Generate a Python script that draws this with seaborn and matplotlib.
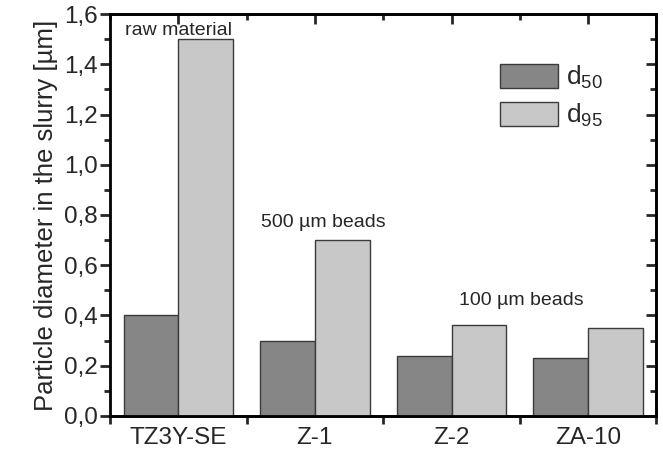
import numpy as np
import pandas as pd
import matplotlib
matplotlib.use("Agg")
import matplotlib.pyplot as plt
import seaborn as sns
from matplotlib.patches import Patch
from matplotlib.ticker import MultipleLocator, FuncFormatter

# Data
samples = ['TZ3Y-SE', 'Z-1', 'Z-2', 'ZA-10']
d50 = [0.40, 0.30, 0.24, 0.23]
d95 = [1.50, 0.70, 0.36, 0.35]
series_labels = ['d50', 'd95']
notes = ['raw material', '500 µm beads', '100 µm beads']
note_pos = [(0.0, 1.535), (1.06, 0.772), (2.51, 0.46)]

colors = ['#868686', '#c8c8c8']

sns.set_theme(style='white')
plt.rcParams['font.family'] = ['Liberation Sans', 'DejaVu Sans']
plt.rcParams['mathtext.fontset'] = 'custom'
plt.rcParams['mathtext.rm'] = 'Liberation Sans'
plt.rcParams['mathtext.it'] = 'Liberation Sans'

df = pd.DataFrame({
    'sample': samples * 2,
    'size': series_labels[0:1] * len(samples) + series_labels[1:2] * len(samples),
    'value': d50 + d95,
})

fig = plt.figure(figsize=(6.63, 4.55), dpi=100)
ax = fig.add_axes([0.166, 0.086, 0.824, 0.883])

sns.barplot(ax=ax, data=df, x='sample', y='value', hue='size',
            palette=colors, edgecolor='#3a3a3a', linewidth=1.0,
            width=0.8, legend=False, saturation=1)

ax.set_xlim(-0.5, 3.5)
ax.set_ylim(0, 1.6)
ax.yaxis.set_major_locator(MultipleLocator(0.2))
ax.yaxis.set_minor_locator(MultipleLocator(0.1))
ax.yaxis.set_major_formatter(FuncFormatter(lambda v, p: f'{v:.1f}'.replace('.', ',')))

for s in ax.spines.values():
    s.set_linewidth(2)
    s.set_color('black')

# left / bottom ticks point out, right / top point in
ax.tick_params(axis='y', which='major', direction='out', length=7, width=2,
               labelsize=17.5, left=True, right=False, pad=2)
ax.tick_params(axis='y', which='minor', direction='out', length=4, width=2,
               left=True, right=False)
ax.tick_params(axis='x', which='major', length=0, labelsize=17.5, pad=8)

ax2 = ax.secondary_yaxis('right')
ax2.yaxis.set_major_locator(MultipleLocator(0.2))
ax2.yaxis.set_minor_locator(MultipleLocator(0.1))
ax2.tick_params(which='major', direction='in', length=7, width=2, labelright=False)
ax2.tick_params(which='minor', direction='in', length=4, width=2)
ax2.spines['right'].set_linewidth(2)

ax3 = ax.secondary_xaxis('bottom')
ax3.set_xticks([-0.5, 0.5, 1.5, 2.5, 3.5])
ax3.tick_params(direction='out', length=6, width=2, labelbottom=False)
ax3.spines['bottom'].set_linewidth(2)

ax4 = ax.secondary_xaxis('top')
ax4.set_xticks([0, 1, 2, 3])
ax4.set_xticks([-0.5, 0.5, 1.5, 2.5, 3.5], minor=True)
ax4.tick_params(which='major', direction='in', length=7, width=2, labeltop=False)
ax4.tick_params(which='minor', direction='in', length=4, width=2)
ax4.spines['top'].set_linewidth(2)

ax.set_xlabel('')
ax.set_ylabel('Particle diameter in the slurry [µm]', fontsize=18.5, labelpad=4)

for txt, (x, y) in zip(notes, note_pos):
    ax.text(x, y, txt, ha='center', va='center', fontsize=14)

handles = [Patch(facecolor=c, edgecolor='#3a3a3a', linewidth=1.0) for c in colors]
ax.legend(handles, ['d$_{50}$', 'd$_{95}$'], loc='upper right',
          bbox_to_anchor=(0.945, 0.935), frameon=False, fontsize=19,
          handlelength=2.2, handleheight=1.05, labelspacing=0.4,
          handletextpad=0.3)

fig.savefig('out.png', dpi=100)
